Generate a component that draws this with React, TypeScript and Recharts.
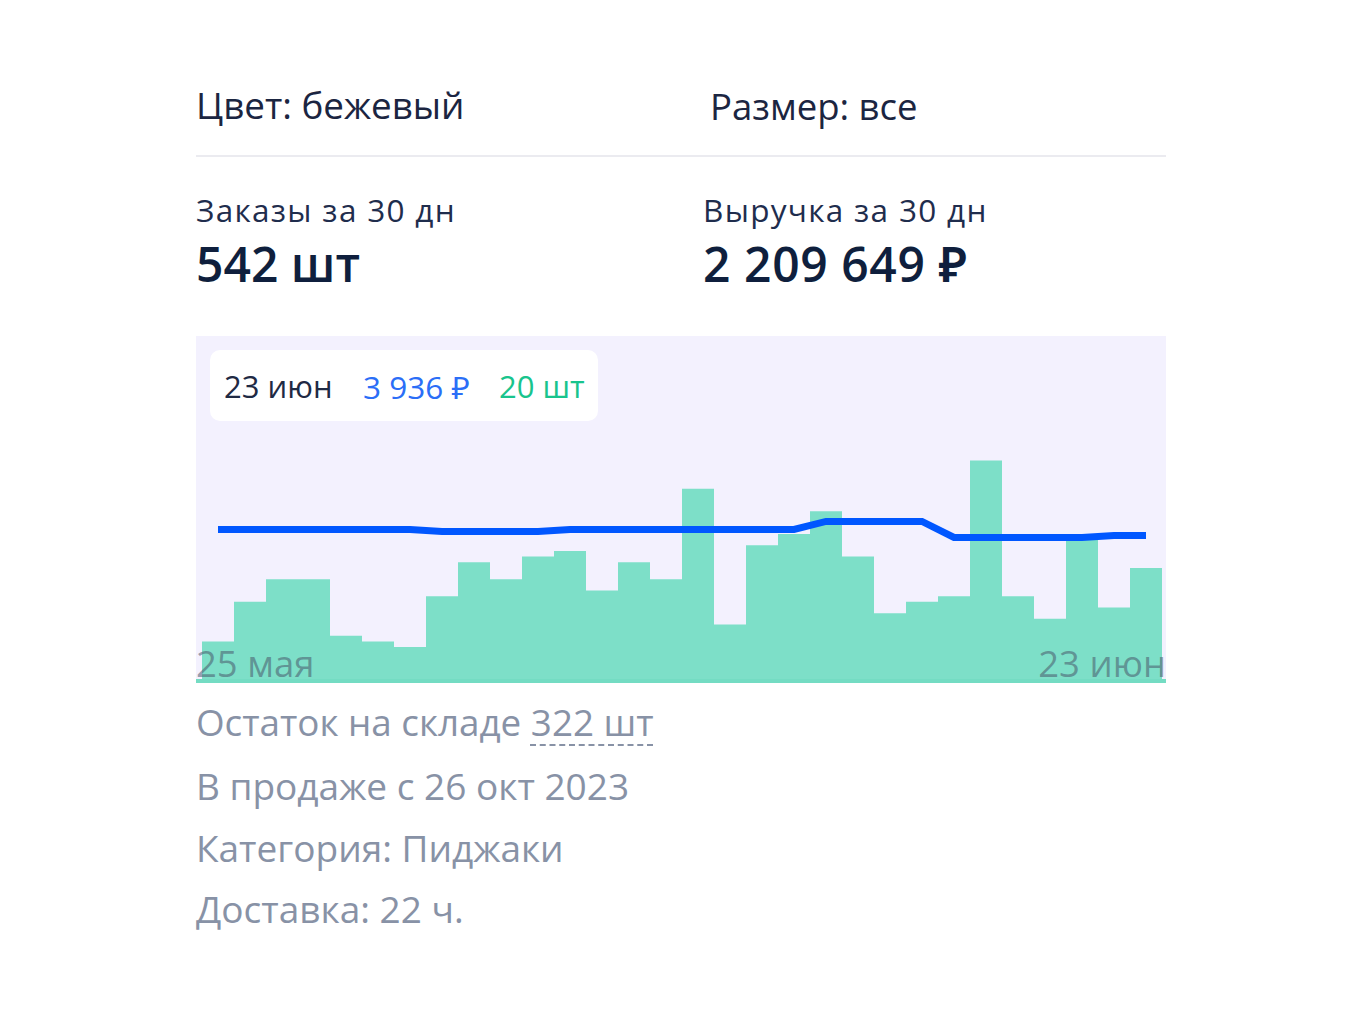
import React from "react";
import { ComposedChart, Bar, Line, XAxis, YAxis } from "recharts";

const dates = [
  "25 мая", "26 мая", "27 мая", "28 мая", "29 мая", "30 мая", "31 мая",
  "1 июн", "2 июн", "3 июн", "4 июн", "5 июн", "6 июн", "7 июн", "8 июн",
  "9 июн", "10 июн", "11 июн", "12 июн", "13 июн", "14 июн", "15 июн",
  "16 июн", "17 июн", "18 июн", "19 июн", "20 июн", "21 июн", "22 июн", "23 июн",
];

// заказы, шт в день
const orders = [
  7, 14, 18, 18, 8, 7, 6, 15, 21, 18, 22, 23, 16, 21, 18,
  34, 10, 24, 26, 30, 22, 12, 14, 15, 39, 15, 11, 25, 13, 20,
];

// цена, ₽
const prices = [
  4106, 4106, 4106, 4106, 4106, 4106, 4106, 4050, 4050, 4050, 4050,
  4106, 4106, 4106, 4106, 4106, 4106, 4106, 4106, 4334, 4334, 4334, 4334,
  3879, 3879, 3879, 3879, 3879, 3936, 3936,
];

const edgeLabels = [dates[0], dates[dates.length - 1]];

const infoLines = ["В продаже с 26 окт 2023", "Категория: Пиджаки", "Доставка: 22 ч."];

const data = dates.map((date, i) => ({ date, orders: orders[i], price: prices[i] }));

const font = "'Open Sans', 'Noto Sans', sans-serif";
const fmt = (n: number) => n.toLocaleString("ru-RU").replace(/\s/g, "\u00a0");

// top for a line-height:1 block so that the baseline lands on y
const top = (baseline: number, fs: number) => baseline - 0.888 * fs;

function T({ x, y, fs, color, weight, children, style }: any) {
  return (
    <div
      style={{
        position: "absolute",
        left: x,
        top: top(y, fs),
        fontSize: fs,
        lineHeight: 1,
        color,
        fontWeight: weight || 400,
        whiteSpace: "nowrap",
        ...style,
      }}
    >
      {children}
    </div>
  );
}

export default function App() {
  const last = data[data.length - 1];
  const totalOrders = orders.reduce((a, b) => a + b, 0);
  return (
    <div style={{ position: "absolute", left: 0, top: 0, width: 1360, height: 1010, background: "#fff", fontFamily: font }}>
      <T x={196} y={120} fs={36.8} color="#1b2541">Цвет: бежевый</T>
      <T x={710} y={120} fs={36.5} color="#1b2541">Размер: все</T>
      <div style={{ position: "absolute", left: 196, top: 155, width: 970, height: 2, background: "#ebebf0" }} />

      <T x={196} y={222} fs={31.5} color="#1f2d4d" style={{ letterSpacing: 1.3 }}>Заказы за 30 дн</T>
      <T x={196} y={283} fs={48} color="#0f1f3d" weight={600}>{totalOrders} шт</T>
      <T x={703} y={222} fs={31.5} color="#1f2d4d" style={{ letterSpacing: 1.3 }}>Выручка за 30 дн</T>
      <T x={703} y={283} fs={48} color="#0f1f3d" weight={600} style={{ letterSpacing: 0.6 }}>2 209 649 ₽</T>

      <div style={{ position: "absolute", left: 196, top: 336, width: 970, height: 347, background: "#f3f1fe" }}>
        <ComposedChart width={970} height={347} data={data} margin={{ top: 0, right: 0, left: 0, bottom: 2 }} barCategoryGap={0}>
          <XAxis
            dataKey="date"
            height={0}
            tick={false}
            tickLine={false}
            axisLine={false}
            padding={{ left: 6, right: 4 }}
          />
          <YAxis yAxisId="u" hide domain={[0, 61]} allowDataOverflow />
          <YAxis yAxisId="p" hide domain={[-200, 9600]} allowDataOverflow />
          <Bar yAxisId="u" dataKey="orders" fill="#7ddfc8" isAnimationActive={false} />
          <Line
            yAxisId="p"
            dataKey="price"
            type="linear"
            stroke="#0057ff"
            strokeWidth={7}
            dot={false}
            activeDot={false}
            isAnimationActive={false}
          />
        </ComposedChart>
      </div>
      <div style={{ position: "absolute", left: 196, top: 679, width: 970, height: 4, background: "#74dcc3" }} />

      <T x={196} y={677} fs={36.5} color="rgba(71,85,105,0.55)">{edgeLabels[0]}</T>
      <T x={1166} y={677} fs={36.5} color="rgba(71,85,105,0.55)" style={{ transform: "translateX(-100%)" }}>
        {edgeLabels[1]}
      </T>

      <div
        style={{
          position: "absolute",
          left: 210,
          top: 350,
          width: 388,
          height: 71,
          background: "#fff",
          borderRadius: 10,
        }}
      />
      <T x={224} y={399} fs={31} color="#1f2a44">{last.date}</T>
      <T x={363} y={399} fs={31.5} color="#2b6ef7">{fmt(last.price)} ₽</T>
      <T x={499} y={399} fs={31} color="#19c48d">{last.orders} шт</T>

      <T x={196} y={737} fs={36.8} color="#8892a6">
        Остаток на складе{" "}
        <span
          style={{
            textDecorationLine: "underline",
            textDecorationStyle: "dashed",
            textDecorationThickness: 2,
            textUnderlineOffset: 8,
          }}
        >
          322 шт
        </span>
      </T>
      {infoLines.map((s, i) => (
        <T key={s} x={196} y={800 + i * 61.5} fs={37} color="#8892a6">{s}</T>
      ))}
    </div>
  );
}
